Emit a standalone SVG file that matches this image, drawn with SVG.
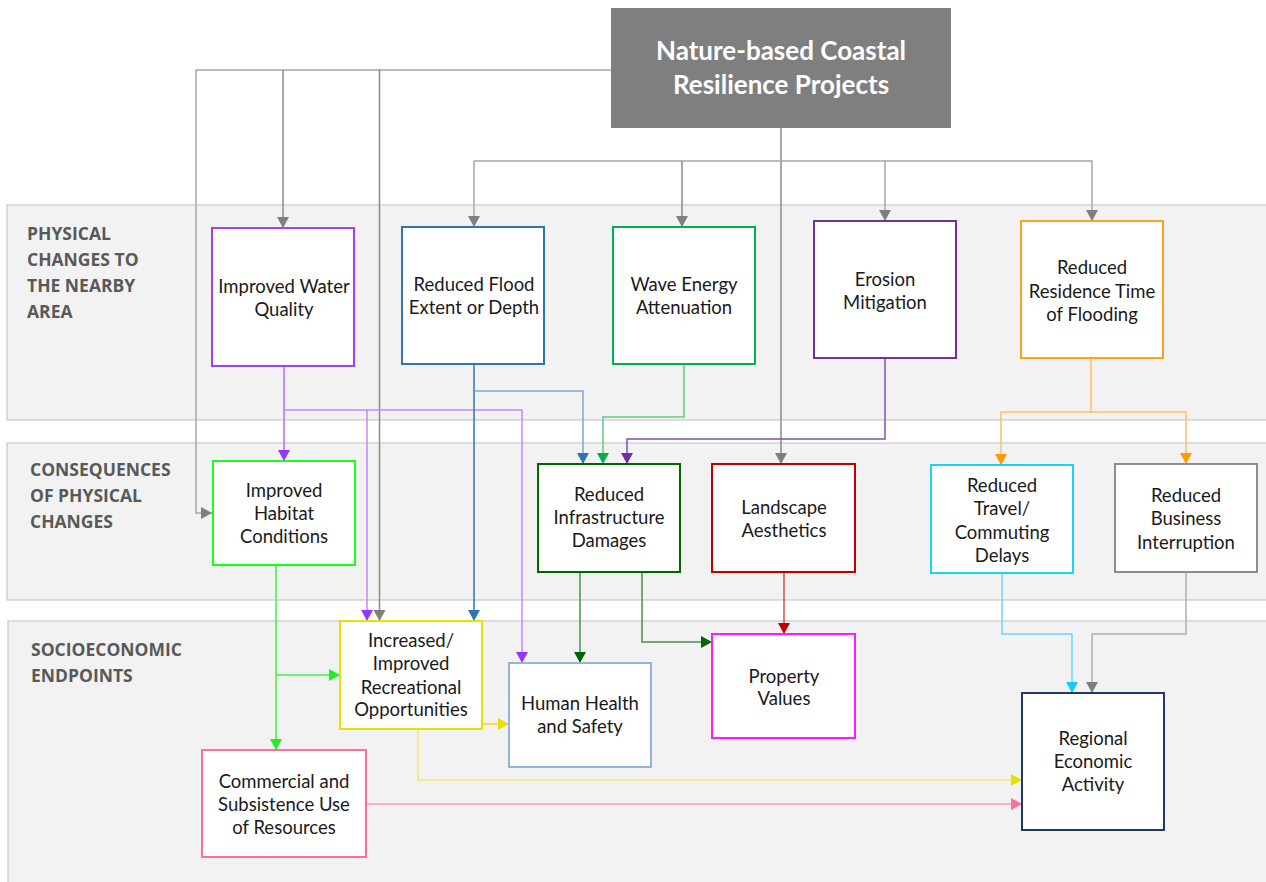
<svg xmlns="http://www.w3.org/2000/svg" width="1266" height="882" viewBox="0 0 1266 882">
<style>
.band{fill:#f2f2f2;stroke:#c8c8c8;stroke-width:1.2}
.bl{font-family:"Open Sans","Liberation Sans",sans-serif;font-weight:700;font-size:17.5px;fill:#595959}
.box{fill:#ffffff;stroke-width:2}
.t{font-family:Lato,"Liberation Sans",sans-serif;font-size:18.5px;fill:#1a1a1a;text-anchor:middle}
.c{fill:none;stroke-width:1.5}
</style>
<defs>
<marker id="mGray" markerUnits="userSpaceOnUse" markerWidth="12" markerHeight="12" refX="11" refY="6" orient="auto"><path d="M0,0 L11,6 L0,12 z" fill="#7f7f7f"/></marker>
<marker id="mPur" markerUnits="userSpaceOnUse" markerWidth="12" markerHeight="12" refX="11" refY="6" orient="auto"><path d="M0,0 L11,6 L0,12 z" fill="#9933ff"/></marker>
<marker id="mBlue" markerUnits="userSpaceOnUse" markerWidth="12" markerHeight="12" refX="11" refY="6" orient="auto"><path d="M0,0 L11,6 L0,12 z" fill="#2e75b6"/></marker>
<marker id="mGrn" markerUnits="userSpaceOnUse" markerWidth="12" markerHeight="12" refX="11" refY="6" orient="auto"><path d="M0,0 L11,6 L0,12 z" fill="#00b050"/></marker>
<marker id="mDpur" markerUnits="userSpaceOnUse" markerWidth="12" markerHeight="12" refX="11" refY="6" orient="auto"><path d="M0,0 L11,6 L0,12 z" fill="#7030a0"/></marker>
<marker id="mOra" markerUnits="userSpaceOnUse" markerWidth="12" markerHeight="12" refX="11" refY="6" orient="auto"><path d="M0,0 L11,6 L0,12 z" fill="#ff9900"/></marker>
<marker id="mLime" markerUnits="userSpaceOnUse" markerWidth="12" markerHeight="12" refX="11" refY="6" orient="auto"><path d="M0,0 L11,6 L0,12 z" fill="#22ee22"/></marker>
<marker id="mDgrn" markerUnits="userSpaceOnUse" markerWidth="12" markerHeight="12" refX="11" refY="6" orient="auto"><path d="M0,0 L11,6 L0,12 z" fill="#006600"/></marker>
<marker id="mRed" markerUnits="userSpaceOnUse" markerWidth="12" markerHeight="12" refX="11" refY="6" orient="auto"><path d="M0,0 L11,6 L0,12 z" fill="#c00000"/></marker>
<marker id="mYel" markerUnits="userSpaceOnUse" markerWidth="12" markerHeight="12" refX="11" refY="6" orient="auto"><path d="M0,0 L11,6 L0,12 z" fill="#e6e000"/></marker>
<marker id="mPink" markerUnits="userSpaceOnUse" markerWidth="12" markerHeight="12" refX="11" refY="6" orient="auto"><path d="M0,0 L11,6 L0,12 z" fill="#ff6f9a"/></marker>
<marker id="mCyan" markerUnits="userSpaceOnUse" markerWidth="12" markerHeight="12" refX="11" refY="6" orient="auto"><path d="M0,0 L11,6 L0,12 z" fill="#11ccff"/></marker>
</defs>
<rect width="1266" height="882" fill="#ffffff"/>
<g id="bands">
<rect class="band" x="7" y="205" width="1265" height="215"/>
<rect class="band" x="7" y="443" width="1265" height="157"/>
<rect class="band" x="8" y="621" width="1265" height="270"/>
<text class="bl" x="27" y="240">PHYSICAL</text>
<text class="bl" x="27" y="266">CHANGES TO</text>
<text class="bl" x="27" y="292">THE NEARBY</text>
<text class="bl" x="27" y="318">AREA</text>
<text class="bl" x="30" y="476">CONSEQUENCES</text>
<text class="bl" x="30" y="502">OF PHYSICAL</text>
<text class="bl" x="30" y="528">CHANGES</text>
<text class="bl" x="31" y="656">SOCIOECONOMIC</text>
<text class="bl" x="31" y="682">ENDPOINTS</text>
</g>
<g id="connectors">
<path class="c" stroke="#a6a6a6" d="M611,70 H196 V513 H212" marker-end="url(#mGray)"/>
<path class="c" stroke="#8a8a8a" d="M283,70 V228" marker-end="url(#mGray)"/>
<path class="c" stroke="#8a8a8a" d="M379.5,69 V621" marker-end="url(#mGray)"/>
<path class="c" stroke="#8a8a8a" d="M781,128 V464" marker-end="url(#mGray)"/>
<path class="c" stroke="#a6a6a6" d="M474,161 V227" marker-end="url(#mGray)"/>
<path class="c" stroke="#a6a6a6" d="M474,161 H1092 V221" marker-end="url(#mGray)"/>
<path class="c" stroke="#8a8a8a" d="M682,161 V227" marker-end="url(#mGray)"/>
<path class="c" stroke="#a6a6a6" d="M885,161 V221" marker-end="url(#mGray)"/>
<path class="c" stroke="#b36bff" d="M284,366 V461" marker-end="url(#mPur)"/>
<path class="c" stroke="#c08aff" d="M284,410 H522 V663" marker-end="url(#mPur)"/>
<path class="c" stroke="#c08aff" d="M367,410 V621" marker-end="url(#mPur)"/>
<path class="c" stroke="#2e75b6" d="M474,364 V621" marker-end="url(#mBlue)"/>
<path class="c" stroke="#7fa8d4" d="M475,391 H583 V464" marker-end="url(#mBlue)"/>
<path class="c" stroke="#5fcc88" d="M684,364 V417 H603 V464" marker-end="url(#mGrn)"/>
<path class="c" stroke="#8050b0" d="M885,358 V439 H627 V464" marker-end="url(#mDpur)"/>
<path class="c" stroke="#ffc060" d="M1091,358 V412 H1001 V465" marker-end="url(#mOra)"/>
<path class="c" stroke="#ffc060" d="M1091,412 H1186 V464" marker-end="url(#mOra)"/>
<path class="c" stroke="#44ee44" d="M276,565 V750" marker-end="url(#mLime)"/>
<path class="c" stroke="#44ee44" d="M276,675 H340" marker-end="url(#mLime)"/>
<path class="c" stroke="#4f8f4f" d="M580,572 V663" marker-end="url(#mDgrn)"/>
<path class="c" stroke="#4f8f4f" d="M642,572 V642 H712" marker-end="url(#mDgrn)"/>
<path class="c" stroke="#d05050" d="M784,572 V634" marker-end="url(#mRed)"/>
<path class="c" stroke="#e6e000" d="M482,724 H509" marker-end="url(#mYel)"/>
<path class="c" stroke="#eeea70" d="M418,729 V780 H1022" marker-end="url(#mYel)"/>
<path class="c" stroke="#ff9ab8" d="M366,804 H1022" marker-end="url(#mPink)"/>
<path class="c" stroke="#66d8ff" d="M1002,573 V634 H1072 V693" marker-end="url(#mCyan)"/>
<path class="c" stroke="#b0b0b0" d="M1186,572 V634 H1092 V693" marker-end="url(#mGray)"/>
</g>
<g id="n-top">
<rect x="611" y="8" width="340" height="120" fill="#7f7f7f"/>
<text x="781" y="60" text-anchor="middle" font-family="Lato,'Liberation Sans',sans-serif" font-weight="700" font-size="26" fill="#ffffff">Nature-based Coastal</text>
<text x="781" y="94" text-anchor="middle" font-family="Lato,'Liberation Sans',sans-serif" font-weight="700" font-size="26" fill="#ffffff">Resilience Projects</text>
</g>
<g id="n-water">
<rect class="box" x="212" y="228" width="142" height="138" stroke="#a040ff"/>
<text class="t" x="284" y="293">Improved Water</text>
<text class="t" x="284" y="316">Quality</text>
</g>
<g id="n-flood">
<rect class="box" x="402" y="227" width="142" height="137" stroke="#2e75b6"/>
<text class="t" x="474" y="291">Reduced Flood</text>
<text class="t" x="474" y="314">Extent or Depth</text>
</g>
<g id="n-wave">
<rect class="box" x="613" y="227" width="142" height="137" stroke="#00b050"/>
<text class="t" x="684" y="291">Wave Energy</text>
<text class="t" x="684" y="314">Attenuation</text>
</g>
<g id="n-erosion">
<rect class="box" x="814" y="221" width="142" height="137" stroke="#7030a0"/>
<text class="t" x="885" y="286">Erosion</text>
<text class="t" x="885" y="309">Mitigation</text>
</g>
<g id="n-residence">
<rect class="box" x="1021" y="221" width="142" height="137" stroke="#ffa31a"/>
<text class="t" x="1092" y="274">Reduced</text>
<text class="t" x="1092" y="298">Residence Time</text>
<text class="t" x="1092" y="321">of Flooding</text>
</g>
<g id="n-habitat">
<rect class="box" x="213" y="461" width="142" height="104" stroke="#1aff1a"/>
<text class="t" x="284" y="497">Improved</text>
<text class="t" x="284" y="520">Habitat</text>
<text class="t" x="284" y="543">Conditions</text>
</g>
<g id="n-infra">
<rect class="box" x="538" y="464" width="142" height="108" stroke="#006600"/>
<text class="t" x="609" y="501">Reduced</text>
<text class="t" x="609" y="524">Infrastructure</text>
<text class="t" x="609" y="547">Damages</text>
</g>
<g id="n-landscape">
<rect class="box" x="712" y="464" width="143" height="108" stroke="#c00000"/>
<text class="t" x="784" y="514">Landscape</text>
<text class="t" x="784" y="537">Aesthetics</text>
</g>
<g id="n-travel">
<rect class="box" x="931" y="465" width="142" height="108" stroke="#1ad1ff"/>
<text class="t" x="1002" y="492">Reduced</text>
<text class="t" x="1002" y="515">Travel/</text>
<text class="t" x="1002" y="539">Commuting</text>
<text class="t" x="1002" y="562">Delays</text>
</g>
<g id="n-business">
<rect class="box" x="1115" y="464" width="142" height="108" stroke="#8c8c8c"/>
<text class="t" x="1186" y="502">Reduced</text>
<text class="t" x="1186" y="525">Business</text>
<text class="t" x="1186" y="549">Interruption</text>
</g>
<g id="n-recreation">
<rect class="box" x="340" y="621" width="142" height="108" stroke="#e8e000"/>
<text class="t" x="411" y="647">Increased/</text>
<text class="t" x="411" y="670">Improved</text>
<text class="t" x="411" y="694">Recreational</text>
<text class="t" x="411" y="716">Opportunities</text>
</g>
<g id="n-health">
<rect class="box" x="509" y="663" width="142" height="104" stroke="#95b3e0"/>
<text class="t" x="580" y="710">Human Health</text>
<text class="t" x="580" y="733">and Safety</text>
</g>
<g id="n-property">
<rect class="box" x="712" y="634" width="143" height="104" stroke="#ff1aff"/>
<text class="t" x="784" y="683">Property</text>
<text class="t" x="784" y="705">Values</text>
</g>
<g id="n-regional">
<rect class="box" x="1022" y="693" width="142" height="137" stroke="#1f3864"/>
<text class="t" x="1093" y="745">Regional</text>
<text class="t" x="1093" y="768">Economic</text>
<text class="t" x="1093" y="791">Activity</text>
</g>
<g id="n-commercial">
<rect class="box" x="202" y="750" width="164" height="107" stroke="#ff7099"/>
<text class="t" x="284" y="788">Commercial and</text>
<text class="t" x="284" y="811">Subsistence Use</text>
<text class="t" x="284" y="834">of Resources</text>
</g>
</svg>
